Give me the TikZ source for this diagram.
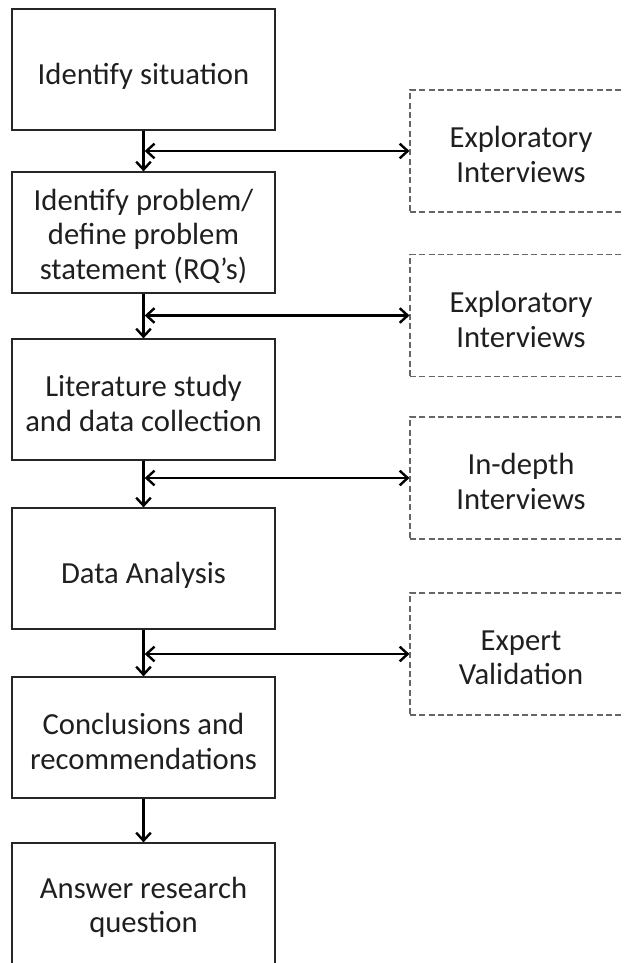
\documentclass[tikz,border=0pt]{standalone}
\usepackage{fontspec}
\setmainfont{Carlito}
\usetikzlibrary{arrows.meta,calc}
\begin{document}
\begin{tikzpicture}[x=0.75pt,y=-0.75pt,
  labeltext/.style={align=center, text=black!88,
    font=\fontsize{23}{26}\selectfont, inner sep=2pt},
  oneline/.style={labeltext, yshift=-4.8pt},
  twolines/.style={labeltext, yshift=-2.8pt},
  stepbox/.style={draw=black!85, line width=0.9pt, rectangle,
    minimum width=197.25pt, minimum height=90.75pt},
  sidebox/.style={draw=black!60, dashed, dash pattern=on 4.5pt off 2.5pt,
    line width=0.8pt, rectangle, minimum width=166.5pt, minimum height=91.5pt},
  tip/.tip={Straight Barb[length=6pt,width=11pt]},
  flow/.style={line width=1.8pt, -tip},
  twoway/.style={line width=1.8pt, tip-tip}]
\useasboundingbox (0,0) rectangle (624,963);

% main sequence of steps
\node[stepbox, label={[oneline]center:Identify situation}] (b1) at (143.5,69.5) {};
\node[stepbox, label={[twolines]center:{Identify problem/\\define problem\\statement (RQ’s)}}] (b2) at (143.5,232.5) {};
\node[stepbox, label={[twolines]center:{Literature study\\and data collection}}] (b3) at (143.5,399.5) {};
\node[stepbox, label={[oneline]center:Data Analysis}] (b4) at (143.5,568.5) {};
\node[stepbox, label={[twolines]center:{Conclusions and\\recommendations}}] (b5) at (143.5,737.5) {};
\node[stepbox, label={[twolines]center:{Answer research\\question}}] (b6) at (143.5,903.5) {};

% supporting activities
\node[sidebox, label={[twolines]center:{Exploratory\\Interviews}}] (dA) at (521,151) {};
\node[sidebox, label={[twolines]center:{Exploratory\\Interviews}}] (dB) at (521,315.5) {};
\node[sidebox, label={[twolines]center:{In-depth\\Interviews}}] (dC) at (521,478) {};
\node[sidebox, label={[twolines]center:{Expert\\Validation}}] (dD) at (521,654) {};

% vertical flow
\draw[flow] (b1.south) -- (b2.north);
\draw[flow] (b2.south) -- (b3.north);
\draw[flow] (b3.south) -- (b4.north);
\draw[flow] (b4.south) -- (b5.north);
\draw[flow] (b5.south) -- (b6.north);

% links to the supporting activities
\coordinate (j1) at (b1.south |- dA.west);
\coordinate (j2) at (b2.south |- dB.west);
\coordinate (j3) at (b3.south |- dC.west);
\coordinate (j4) at (b4.south |- dD.west);
\draw[twoway] ($(j1)+(0.9pt,0)$) -- (dA.west);
\draw[twoway] ($(j2)+(0.9pt,0)$) -- (dB.west);
\draw[twoway] ($(j3)+(0.9pt,0)$) -- (dC.west);
\draw[twoway] ($(j4)+(0.9pt,0)$) -- (dD.west);
\end{tikzpicture}
\end{document}
